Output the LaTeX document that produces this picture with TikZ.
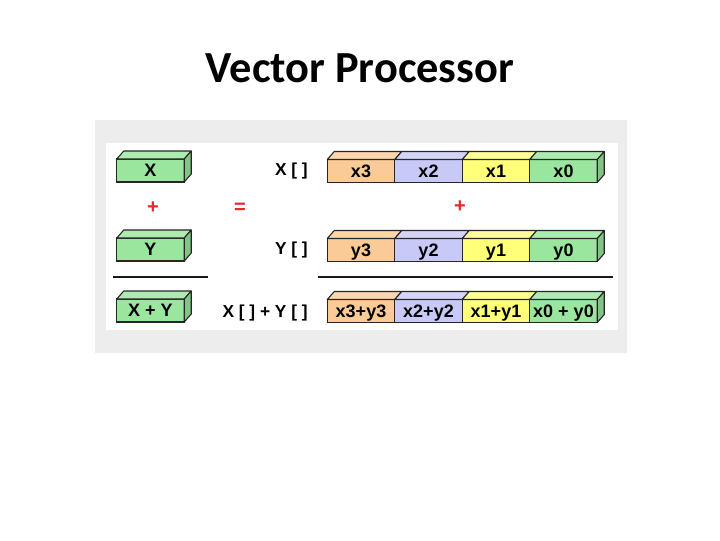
\documentclass[tikz,border=0pt]{standalone}
\usepackage{fontspec}
\setmainfont{Liberation Sans}
\newfontfamily\titlefont{Carlito}
\usetikzlibrary{positioning}
\definecolor{peach}{HTML}{FACB97}
\definecolor{lilac}{HTML}{C9C9F7}
\definecolor{lemon}{HTML}{FFFF7A}
\definecolor{mint}{HTML}{9AE69E}
\definecolor{panel}{HTML}{EDEDED}
\definecolor{signred}{HTML}{E8262B}
\tikzset{cell/.style={draw=black!85,line width=.8pt,fill=#1,minimum width=67.5*.75pt,
           minimum height=23*.75pt,inner sep=0pt,outer sep=0pt,text height=9.5pt,text depth=0pt,
           font=\bfseries\fontsize{13.5}{15}\selectfont},
         face/.style={draw=black!85,line width=.8pt,line join=round},
         vlabel/.style={anchor=east,inner sep=0pt,font=\bfseries\fontsize{13}{15}\selectfont},
         sign/.style={text=signred,inner sep=0pt,font=\bfseries\fontsize{15}{17}\selectfont},
         rule/.style={line width=2.2pt,black!90}}

\begin{document}
\begin{tikzpicture}[x=.75pt,y=-.75pt]
  \useasboundingbox (0,0) rectangle (720,540);
  \node[font=\titlefont\bfseries\fontsize{33.3}{38}\selectfont] (title) at (360,68) {Vector Processor};
  \fill[panel] (95,120) rectangle (627,353);
  \fill[white] (106,143) rectangle (618,330);
  % scalar side
  \node[cell=mint] (xbox) at (150.5,170.5) {X};
  \node[cell=mint] (ybox) at (150.5,249.5) {Y};
  \node[cell=mint] (sumbox) at (150.5,310.5) {X + Y};
  \node[sign] (plusleft) at (153,208) {+};
  \node[sign] (equal) at (240,208) {=};
  \draw[rule] (113,277) -- (208,277);
  % vector side
  \node[vlabel] (xlabel) at (308,171) {X [ ]};
  \node[vlabel] (ylabel) at (308,250) {Y [ ]};
  \node[vlabel] (slabel) at (308,313) {X [ ] + Y [ ]};
  \node[cell=peach] (x3) at (361,171) {x3};
  \node[cell=lilac,right=0pt of x3] (x2) {x2};
  \node[cell=lemon,right=0pt of x2] (x1) {x1};
  \node[cell=mint,right=0pt of x1] (x0) {x0};
  \node[sign] (plusmid) at (460,207) {+};
  \node[cell=peach] (y3) at (361,250) {y3};
  \node[cell=lilac,right=0pt of y3] (y2) {y2};
  \node[cell=lemon,right=0pt of y2] (y1) {y1};
  \node[cell=mint,right=0pt of y1] (y0) {y0};
  \draw[rule] (318,277) -- (613,277);
  \node[cell=peach] (s3) at (361,311) {x3+y3};
  \node[cell=lilac,right=0pt of s3] (s2) {x2+y2};
  \node[cell=lemon,right=0pt of s2] (s1) {x1+y1};
  \node[cell=mint,right=0pt of s1] (s0) {x0 + y0};
  % top and side faces
  \foreach \n/\c in {xbox/mint,ybox/mint,sumbox/mint,x3/peach,x2/lilac,x1/lemon,x0/mint,
                     y3/peach,y2/lilac,y1/lemon,y0/mint,s3/peach,s2/lilac,s1/lemon,s0/mint}
    \draw[face,fill=\c!80!white] (\n.north west) -- ++(7,-8) -- ++(67.5,0) -- (\n.north east) -- cycle;
  \foreach \n/\c in {xbox/mint,ybox/mint,sumbox/mint,x0/mint,y0/mint,s0/mint}
    \draw[face,fill=\c!85!black] (\n.north east) -- ++(7,-8) -- ++(0,23) -- (\n.south east) -- cycle;
\end{tikzpicture}
\end{document}
